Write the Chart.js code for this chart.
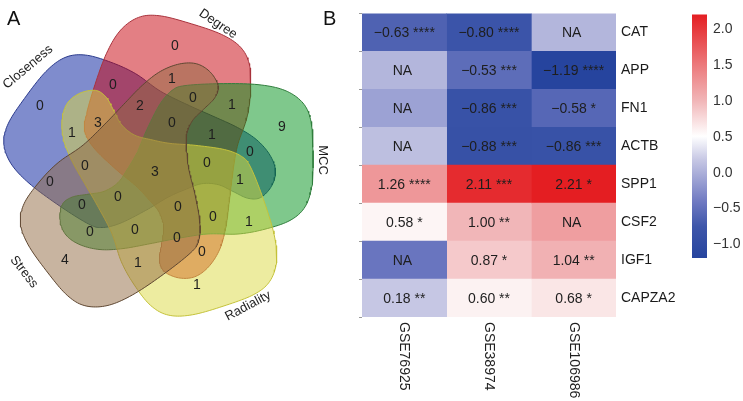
<!DOCTYPE html>
<html>
<head>
<meta charset="utf-8">
<script src="https://cdn.jsdelivr.net/npm/chart.js@4.4.1/dist/chart.umd.min.js"></script>
<style>
html, body { margin: 0; padding: 0; background: #fff; }
#wrap { position: relative; width: 743px; height: 401px; overflow: hidden; }
canvas { position: absolute; top: 0; }
#venn { left: 0; }
#heat { left: 350px; }
#key { left: 680px; }
</style>
</head>
<body>
<div id="wrap">
  <canvas id="venn" width="345" height="401"></canvas>
  <canvas id="heat" width="330" height="401"></canvas>
  <canvas id="key" width="63" height="401"></canvas>
</div>
<script>
const FONT = "'Liberation Sans', Arial, Helvetica, sans-serif";

// ---- Panel A: hub genes found by five cytoHubba methods ----
const setNames = ['Closeness', 'Degree', 'MCC', 'Radiality', 'Stress'];
const regionCounts = [0, 0, 1, 0, 1, 0, 2, 9, 1, 3, 0, 1, 0, 0, 3, 0, 1, 0, 0, 0, 0, 0, 4, 1, 0, 0, 1, 0, 0, 1];

// where each count sits in the diagram (layout, not data)
const regionX = [175, 113, 172, 193, 232, 40, 140, 282, 72, 98, 172, 212, 250, 85, 155, 207, 240, 50, 118, 82, 90, 135, 65, 138, 178, 213, 249, 177, 202, 197];
const regionY = [46, 85, 79, 98, 105, 106, 106, 127, 133, 123, 123, 135, 152, 166, 172, 163, 180, 182, 197, 205, 232, 230, 260, 263, 207, 217, 222, 238, 252, 285];

// outline of the MCC shape; the other four sets are the same shape turned round the centre
const outlineX = [185, 220, 258, 285, 303, 311, 313, 312, 305, 290, 265, 238, 207, 175, 150, 123, 100, 80, 66, 60, 62, 72, 88, 104, 118, 128, 137, 147, 160, 172];
const outlineY = [83, 81, 82, 88, 101, 120, 150, 185, 208, 222, 231, 236, 236, 241, 246, 251, 252, 247, 237, 222, 206, 198, 195, 192, 183, 168, 152, 128, 102, 88];
const centre = [160, 170];
const squashY = 0.97;
const turn = [-144, -72, 0, 72, 144];

const setFill = ['rgba(0,25,155,0.5)', 'rgba(200,0,10,0.5)', 'rgba(0,145,25,0.5)', 'rgba(220,217,65,0.5)', 'rgba(145,105,65,0.5)'];
const setLine = ['#2a3a8c', '#a8323c', '#2f7d3c', '#c4c23a', '#5e4630'];
const setLabelPos = [[28, 67, -40], [218, 24, 34], [323, 160, 90], [248, 306, -28], [24, 272, 52]];

// ---- Panel B: logFC of the hub genes in three GEO series ----
const genes = ['CAT', 'APP', 'FN1', 'ACTB', 'SPP1', 'CSF2', 'IGF1', 'CAPZA2'];
const studies = ['GSE76925', 'GSE38974', 'GSE106986'];
const logFC76925 = [-0.63, null, null, null, 1.26, 0.58, null, 0.18];
const logFC38974 = [-0.80, -0.53, -0.86, -0.88, 2.11, 1.00, 0.87, 0.60];
const logFC106986 = [null, -1.19, -0.58, -0.86, 2.21, null, 1.04, 0.68];
const sig76925 = ['****', '', '', '', '****', '*', '', '**'];
const sig38974 = ['****', '***', '***', '***', '***', '**', '*', '**'];
const sig106986 = ['', '****', '*', '***', '*', '', '**', '*'];
const shade76925 = [-0.63, 0.05, -0.1, 0.12, 1.26, 0.58, -0.45, 0.18];
const shade38974 = [-0.80, -0.53, -0.86, -0.88, 2.11, 1.00, 0.87, 0.60];
const shade106986 = [0.05, -1.19, -0.58, -0.86, 2.21, 1.2, 1.04, 0.68];

// colour ramp of the key
const rampAt = [-1.19, -0.75, -0.4, 0.18, 0.51, 1.0, 1.5, 2.21];
const rampRGB = [[38, 68, 158], [62, 86, 170], [112, 122, 194], [198, 199, 228], [255, 255, 255], [241, 182, 184], [236, 122, 124], [228, 30, 34]];

function rgb(c) { return 'rgb(' + c.map(Math.round).join(',') + ')'; }

function rampColour(v) {
    if (v <= rampAt[0]) return rgb(rampRGB[0]);
    for (let i = 1; i < rampAt.length; i++) {
        if (v <= rampAt[i]) {
            const t = (v - rampAt[i - 1]) / (rampAt[i] - rampAt[i - 1]);
            return rgb(rampRGB[i].map((c, k) => rampRGB[i - 1][k] + (c - rampRGB[i - 1][k]) * t));
        }
    }
    return rgb(rampRGB[rampRGB.length - 1]);
}

function fmt(v) {
    return (v < 0 ? '\u2212' : '') + Math.abs(v).toFixed(2);
}

// closed Catmull-Rom curve through the outline points
function smoothClosed(xs, ys, steps) {
    const n = xs.length, out = [];
    const f = (a, b, c, d, t) => 0.5 * (2 * b + (c - a) * t + (2 * a - 5 * b + 4 * c - d) * t * t + (3 * b - a - 3 * c + d) * t * t * t);
    for (let i = 0; i < n; i++) {
        const i0 = (i - 1 + n) % n, i2 = (i + 1) % n, i3 = (i + 2) % n;
        for (let s = 0; s < steps; s++) {
            const t = s / steps;
            out.push({ x: f(xs[i0], xs[i], xs[i2], xs[i3], t), y: f(ys[i0], ys[i], ys[i2], ys[i3], t) });
        }
    }
    out.push(out[0]);
    return out;
}

function turnPoints(pts, deg) {
    const a = deg * Math.PI / 180, c = Math.cos(a), s = Math.sin(a);
    return pts.map(p => {
        const dx = p.x - centre[0], dy = p.y - centre[1];
        return { x: centre[0] + dx * c - dy * s, y: centre[1] + (dx * s + dy * c) * squashY };
    });
}

// ---- Venn ----
const baseShape = smoothClosed(outlineX, outlineY, 10);
const vennSets = setNames.map((name, k) => ({
    label: name,
    data: turnPoints(baseShape, turn[k]),
    showLine: true,
    fill: 'shape',
    backgroundColor: setFill[k],
    borderColor: setLine[k],
    borderWidth: 1,
    pointRadius: 0,
    tension: 0,
    order: 10 - k
}));
vennSets.push({
    label: 'counts',
    data: regionX.map((x, i) => ({ x: x, y: regionY[i] })),
    pointRadius: 0,
    showLine: false,
    order: 0
});

const vennText = {
    id: 'vennText',
    afterDatasetsDraw(chart) {
        const ctx = chart.ctx;
        const meta = chart.getDatasetMeta(chart.data.datasets.length - 1);
        ctx.save();
        ctx.fillStyle = '#1e1e1e';
        ctx.font = '14px ' + FONT;
        ctx.textAlign = 'center';
        ctx.textBaseline = 'middle';
        meta.data.forEach((el, i) => ctx.fillText(String(regionCounts[i]), el.x, el.y));
        ctx.font = '13px ' + FONT;
        setNames.forEach((name, k) => {
            const p = setLabelPos[k];
            ctx.save();
            ctx.translate(chart.scales.x.getPixelForValue(p[0]), chart.scales.y.getPixelForValue(p[1]));
            ctx.rotate(p[2] * Math.PI / 180);
            ctx.fillText(name, 0, 0);
            ctx.restore();
        });
        ctx.font = '20px ' + FONT;
        ctx.textAlign = 'left';
        ctx.textBaseline = 'alphabetic';
        ctx.fillStyle = '#111';
        ctx.fillText('A', 7, 25);
        ctx.fillText('B', 323, 25);
        ctx.restore();
    }
};

new Chart(document.getElementById('venn'), {
    type: 'scatter',
    data: { datasets: vennSets },
    options: {
        responsive: false,
        animation: false,
        layout: { padding: 0 },
        plugins: { legend: { display: false }, tooltip: { enabled: false } },
        scales: {
            x: { type: 'linear', min: 0, max: 345, display: false },
            y: { type: 'linear', min: 0, max: 401, reverse: true, display: false }
        }
    },
    plugins: [vennText]
});

// ---- heatmap ----
const values = [logFC76925, logFC38974, logFC106986];
const stars = [sig76925, sig38974, sig106986];
const shades = [shade76925, shade38974, shade106986];

const heatText = {
    id: 'heatText',
    afterDatasetsDraw(chart) {
        const ctx = chart.ctx;
        ctx.save();
        ctx.fillStyle = '#1e1e1e';
        ctx.font = '14px ' + FONT;
        ctx.textAlign = 'center';
        ctx.textBaseline = 'middle';
        chart.data.datasets.forEach((ds, j) => {
            chart.getDatasetMeta(j).data.forEach((el, i) => {
                const v = values[j][i];
                const txt = v === null ? 'NA ' : fmt(v) + ' ' + stars[j][i];
                ctx.fillText(txt, (el.x + el.base) / 2, el.y + 1);
            });
        });
        // column names, turned to read downwards
        const xs = chart.scales.x;
        ctx.textAlign = 'left';
        studies.forEach((st, j) => {
            ctx.save();
            ctx.translate(xs.getPixelForValue(j + 0.5), chart.chartArea.bottom + 5);
            ctx.rotate(Math.PI / 2);
            ctx.fillText(st, 0, 0);
            ctx.restore();
        });
        ctx.restore();
    }
};

new Chart(document.getElementById('heat'), {
    type: 'bar',
    data: {
        labels: genes,
        datasets: studies.map((st, j) => ({
            label: st,
            data: genes.map(() => [j, j + 1]),
            backgroundColor: shades[j].map(rampColour),
            borderWidth: 0,
            barPercentage: 1,
            categoryPercentage: 1,
            grouped: false
        }))
    },
    options: {
        indexAxis: 'y',
        responsive: false,
        animation: false,
        layout: { padding: { left: 9, top: 6, bottom: 84, right: 0 } },
        plugins: { legend: { display: false }, tooltip: { enabled: false } },
        scales: {
            x: { type: 'linear', min: 0, max: 3, display: false },
            y: {
                type: 'category',
                position: 'right',
                grid: { display: false, drawTicks: false },
                border: { display: false },
                ticks: { color: '#1a1a1a', font: { family: FONT, size: 14 }, padding: 5 },
                afterFit: s => { s.width = 64; }
            },
            yl: {
                type: 'category',
                position: 'left',
                labels: genes,
                grid: { drawOnChartArea: false, tickLength: 3, color: '#9a9a9a' },
                border: { display: false },
                ticks: { display: false },
                afterFit: s => { s.width = 3; }
            }
        }
    },
    plugins: [heatText]
});

// ---- colour key ----
const allShades = shade76925.concat(shade38974, shade106986);
const keyLo = Math.min(...allShades);
const keyHi = Math.max(...allShades);

new Chart(document.getElementById('key'), {
    type: 'bar',
    data: {
        labels: ['logFC'],
        datasets: [{
            data: [[keyLo, keyHi]],
            borderWidth: 0,
            barPercentage: 1,
            categoryPercentage: 1,
            backgroundColor: c => {
                const ch = c.chart;
                if (!ch.chartArea) return null;
                const ys = ch.scales.y;
                const g = ch.ctx.createLinearGradient(0, ys.getPixelForValue(keyLo), 0, ys.getPixelForValue(keyHi));
                rampAt.forEach((v, i) => {
                    const t = Math.min(1, Math.max(0, (v - keyLo) / (keyHi - keyLo)));
                    g.addColorStop(t, rgb(rampRGB[i]));
                });
                return g;
            }
        }]
    },
    options: {
        responsive: false,
        animation: false,
        layout: { padding: { left: 12, top: 6, bottom: 143, right: 0 } },
        plugins: { legend: { display: false }, tooltip: { enabled: false } },
        scales: {
            x: { display: false },
            y: {
                type: 'linear',
                position: 'right',
                min: keyLo,
                max: keyHi,
                grid: { display: false, drawTicks: false },
                border: { display: false },
                ticks: {
                    stepSize: 0.5,
                    includeBounds: false,
                    autoSkip: false,
                    padding: 6,
                    color: '#333',
                    font: { family: FONT, size: 14 },
                    callback: v => (v < 0 ? '\u2212' : '') + Math.abs(v).toFixed(1)
                },
                afterFit: s => { s.width = 36; }
            }
        }
    }
});
</script>
</body>
</html>
